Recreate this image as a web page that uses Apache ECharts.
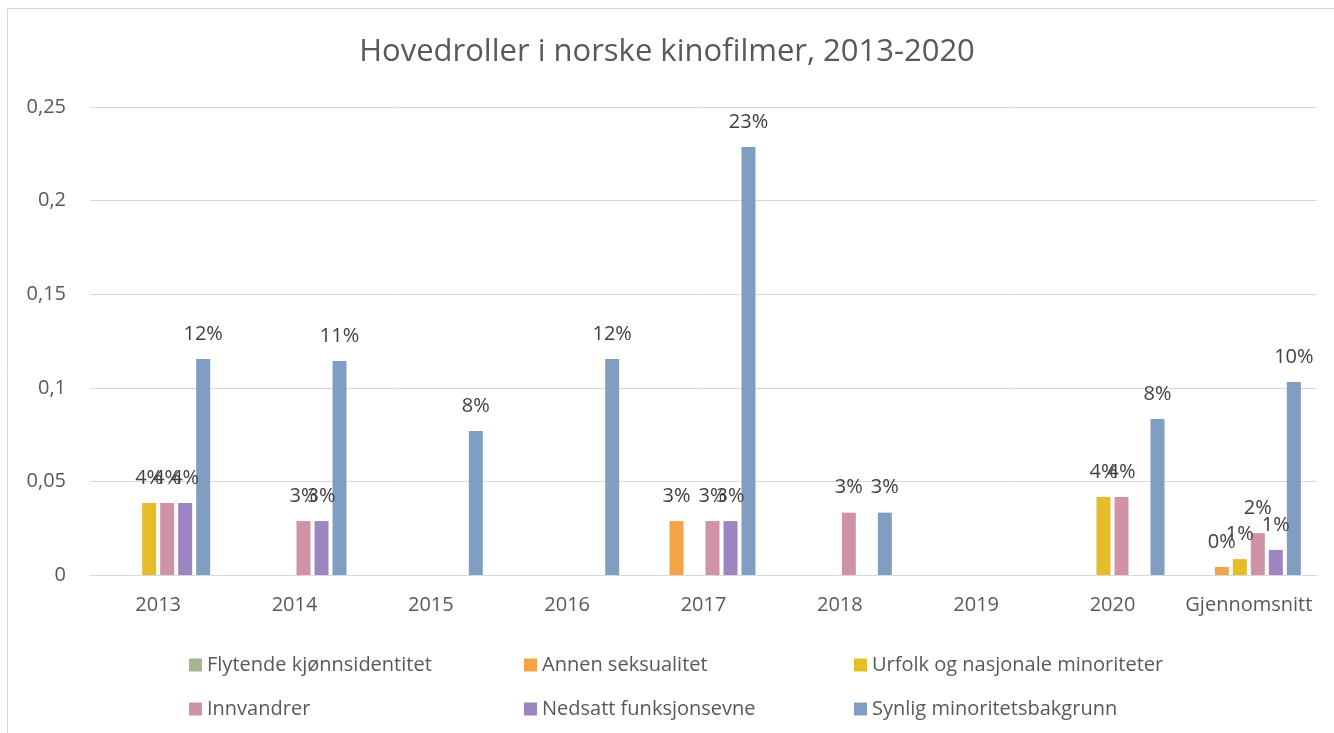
<!DOCTYPE html>
<html>
<head>
<meta charset="utf-8">
<title>Hovedroller i norske kinofilmer</title>
<script src="https://cdn.jsdelivr.net/npm/echarts@6/dist/echarts.min.js"></script>
<style>
  html, body { margin: 0; padding: 0; background: #fff; }
  #chart { width: 1334px; height: 733px; }
</style>
</head>
<body>
<div id="chart"></div>
<script>
// categories (years + average)
var categories = ['2013', '2014', '2015', '2016', '2017', '2018', '2019', '2020', 'Gjennomsnitt'];

// series values (share of leading roles)
var flytende   = [0, 0, 0, 0, 0, 0, 0, 0, 0];
var annen      = [0, 0, 0, 0, 0.0288, 0, 0, 0, 0.0043];
var urfolk     = [0.0385, 0, 0, 0, 0, 0, 0, 0.0417, 0.0085];
var innvandrer = [0.0385, 0.0288, 0, 0, 0.0288, 0.0333, 0, 0.0417, 0.0224];
var nedsatt    = [0.0385, 0.0288, 0, 0, 0.0288, 0, 0, 0, 0.0134];
var synlig     = [0.1154, 0.1143, 0.0769, 0.1154, 0.2286, 0.0333, 0, 0.0833, 0.1031];

var seriesNames = [
    'Flytende kjønnsidentitet', 'Annen seksualitet', 'Urfolk og nasjonale minoriteter',
    'Innvandrer', 'Nedsatt funksjonsevne', 'Synlig minoritetsbakgrunn'
];
var seriesData = [flytende, annen, urfolk, innvandrer, nedsatt, synlig];
var colors = ['#a5b592', '#f3a447', '#e7bc29', '#d092a7', '#9c85c0', '#809ec2'];

var font = '"Open Sans", "Noto Sans", sans-serif';

var series = seriesData.map(function (d, i) {
    return {
        name: seriesNames[i],
        type: 'bar',
        data: d,
        barWidth: 14,
        barGap: '28.6%',
        itemStyle: { color: colors[i] },
        label: {
            show: true,
            position: 'top',
            distance: 15,
            color: '#404040',
            fontSize: 20,
            fontFamily: font,
            formatter: function (p) {
                return p.value > 0 ? Math.round(p.value * 100) + '%' : '';
            }
        }
    };
});

function legendCol(names, left) {
    return {
        orient: 'vertical',
        left: left,
        top: 650,
        itemWidth: 13,
        itemHeight: 13,
        itemGap: 24,
        icon: 'rect',
        data: names,
        selectedMode: false,
        textStyle: { color: '#595959', fontSize: 20, fontFamily: font }
    };
}

var option = {
    backgroundColor: '#ffffff',
    animation: false,
    color: colors,
    title: {
        text: 'Hovedroller i norske kinofilmer, 2013-2020',
        left: 'center',
        top: 32,
        textStyle: { color: '#595959', fontSize: 31, fontWeight: 'normal', fontFamily: font }
    },
    graphic: [{
        type: 'rect',
        shape: { x: 7.5, y: 8.5, width: 1400, height: 800 },
        style: { fill: 'none', stroke: '#d9d9d9', lineWidth: 1 },
        silent: true
    }],
    legend: [
        legendCol([seriesNames[0], seriesNames[3]], 184),
        legendCol([seriesNames[1], seriesNames[4]], 519),
        legendCol([seriesNames[2], seriesNames[5]], 849)
    ],
    grid: { left: 90, right: 17, top: 107, bottom: 158 },
    xAxis: {
        type: 'category',
        data: categories,
        axisTick: { show: false },
        axisLine: { lineStyle: { color: '#d9d9d9', width: 1 } },
        axisLabel: { color: '#595959', fontSize: 20, fontFamily: font, margin: 20, interval: 0 }
    },
    yAxis: {
        type: 'value',
        min: 0,
        max: 0.25,
        interval: 0.05,
        axisLine: { show: false },
        axisTick: { show: false },
        splitLine: { lineStyle: { color: '#d9d9d9', width: 1 } },
        axisLabel: {
            color: '#595959',
            fontSize: 20,
            fontFamily: font,
            margin: 24,
            formatter: function (v) {
                return String(Math.round(v * 100) / 100).replace('.', ',');
            }
        }
    },
    series: series
};

var myChart = echarts.init(document.getElementById('chart'));
myChart.setOption(option);
</script>
</body>
</html>
